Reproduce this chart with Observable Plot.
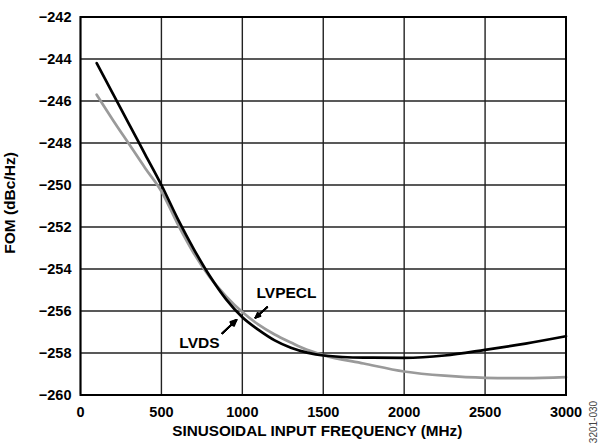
<!DOCTYPE html>
<html><head><meta charset="utf-8">
<script src="https://cdn.jsdelivr.net/npm/d3@7"></script>
<script src="https://cdn.jsdelivr.net/npm/@observablehq/plot@0.6"></script>
<style>body{margin:0;background:#fff}#chart{width:607px;height:446px}</style>
</head><body><div id="chart"></div>
<script>
const freq   = [100, 200, 300, 400, 500, 600, 700, 800, 900, 1000, 1100, 1200, 1300, 1400, 1500, 1750, 2000, 2250, 2500, 2750, 3000];
const lvds   = [-244.2, -245.65, -247.1, -248.55, -250.0, -251.6, -253.05, -254.35, -255.45, -256.3, -256.9, -257.4, -257.75, -257.98, -258.12, -258.22, -258.23, -258.12, -257.85, -257.55, -257.2];
const lvpecl = [-245.7, -246.9, -248.05, -249.2, -250.3, -251.85, -253.25, -254.4, -255.3, -256.05, -256.65, -257.12, -257.5, -257.85, -258.1, -258.5, -258.88, -259.08, -259.18, -259.2, -259.15];
const xTicks = [0, 500, 1000, 1500, 2000, 2500, 3000];
const yTicks = [-242, -244, -246, -248, -250, -252, -254, -256, -258, -260];
const seriesLabels = [
  {text: "LVPECL", x: 1273, y: -255.14},
  {text: "LVDS", x: 735, y: -257.52}
];
const arrows = [
  {x1: 1154, y1: -255.82, x2: 1081, y2: -256.32},
  {x1: 876, y1: -257.06, x2: 964, y2: -256.42}
];
const xTitle = "SINUSOIDAL INPUT FREQUENCY (MHz)";
const yTitle = "FOM (dBc/Hz)";
const figId = "3201-030";

const rows = freq.map((f, i) => ({f, lvds: lvds[i], lvpecl: lvpecl[i]}));
const arrowMarks = [50, 38, 26, 14, 4].map(a => Plot.arrow(arrows, {
  x1: "x1", y1: "y1", x2: "x2", y2: "y2",
  stroke: "black", strokeWidth: 1.7, headLength: 9, headAngle: a
}));

const chart = Plot.plot({
  width: 607, height: 446,
  marginLeft: 80, marginRight: 41.5, marginTop: 16.5, marginBottom: 51.5,
  style: {fontFamily: "'Liberation Sans', Arial, sans-serif", fontSize: "14.5px", fontWeight: "bold", color: "black", background: "white"},
  x: {domain: [0, 3000]},
  y: {domain: [-260, -242]},
  marks: [
    Plot.gridX(xTicks, {stroke: "#222", strokeOpacity: 1, strokeWidth: 1.4}),
    Plot.gridY(yTicks, {stroke: "#222", strokeOpacity: 1, strokeWidth: 1.4}),
    Plot.axisX(xTicks, {tickSize: 0, tickPadding: 11.5, label: null, tickFormat: d => String(d)}),
    Plot.axisY(yTicks, {tickSize: 0, tickPadding: 9, label: null}),
    Plot.line(rows, {x: "f", y: "lvpecl", curve: "monotone-x", stroke: "#9a9a9a", strokeWidth: 2.7}),
    Plot.line(rows, {x: "f", y: "lvds", curve: "monotone-x", stroke: "black", strokeWidth: 2.7}),
    Plot.frame({stroke: "black", strokeWidth: 2}),
    ...arrowMarks,
    Plot.text(seriesLabels, {x: "x", y: "y", text: "text", fontSize: 15.5, fontWeight: "bold", fill: "black"}),
    Plot.text([xTitle], {frameAnchor: "bottom", dx: -6, dy: 40.5, fontSize: 15.3, fontWeight: "bold", fill: "black"}),
    Plot.text([yTitle], {frameAnchor: "left", textAnchor: "middle", dx: -70, dy: -3, rotate: -90, fontSize: 15.5, fontWeight: "bold", fill: "black"}),
    Plot.text([figId], {frameAnchor: "bottom-right", textAnchor: "middle", dx: 30.5, dy: 27, rotate: -90, fontSize: 10, fontWeight: "normal", fill: "#444"})
  ]
});
document.getElementById("chart").append(chart);
</script>
</body></html>
